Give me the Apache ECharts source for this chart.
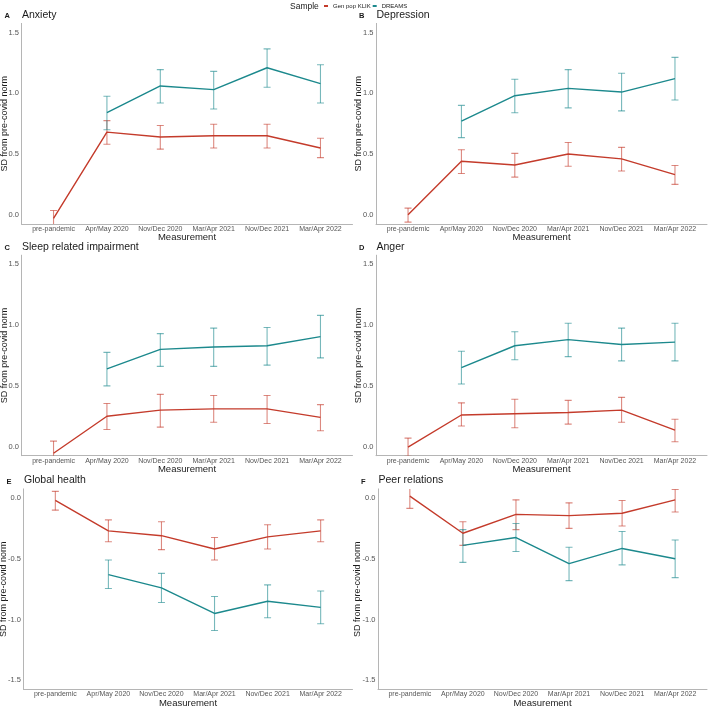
<!DOCTYPE html>
<html>
	<head>
		<meta charset="utf-8" />
		<title>SD from pre-covid norm</title>
		<style>
			html, body { margin: 0; padding: 0; background: #fff; }
			#chart { width: 709px; height: 706px; }
		</style>
	</head>
	<body>
		<div id="chart"></div>
		<script src="https://cdn.jsdelivr.net/npm/echarts@6/dist/echarts.min.js" type="text/javascript" charset="utf-8"></script>
		<script type="text/javascript">
			// 测量时间点
			var categories = ['pre-pandemic', 'Apr/May 2020', 'Nov/Dec 2020', 'Mar/Apr 2021', 'Nov/Dec 2021', 'Mar/Apr 2022'];
			var panelLetters = ['A', 'B', 'C', 'D', 'E', 'F'];
			var panelNames = ['Anxiety', 'Depression', 'Sleep related impairment', 'Anger', 'Global health', 'Peer relations'];

			// Gen pop KLIK: mean / lower / upper per panel
			var klikMean = [
				[-0.03, 0.68, 0.64, 0.65, 0.65, 0.55],
				[0.00, 0.44, 0.41, 0.50, 0.46, 0.33],
				[-0.055, 0.25, 0.30, 0.31, 0.31, 0.24],
				[-0.005, 0.26, 0.27, 0.28, 0.30, 0.135],
				[-0.02, -0.27, -0.31, -0.42, -0.32, -0.27],
				[0.015, -0.29, -0.135, -0.145, -0.125, -0.015]
			];
			var klikLow = [
				[-0.10, 0.58, 0.54, 0.55, 0.55, 0.47],
				[-0.06, 0.34, 0.31, 0.40, 0.36, 0.25],
				[-0.16, 0.14, 0.16, 0.20, 0.19, 0.13],
				[-0.08, 0.17, 0.155, 0.185, 0.20, 0.04],
				[-0.10, -0.36, -0.425, -0.51, -0.42, -0.36],
				[-0.085, -0.39, -0.26, -0.25, -0.23, -0.115]
			];
			var klikHigh = [
				[0.035, 0.775, 0.735, 0.745, 0.745, 0.63],
				[0.055, 0.535, 0.505, 0.595, 0.555, 0.405],
				[0.045, 0.355, 0.43, 0.42, 0.42, 0.345],
				[0.07, 0.36, 0.39, 0.38, 0.405, 0.225],
				[0.055, -0.18, -0.195, -0.325, -0.22, -0.18],
				[0.11, -0.195, -0.015, -0.04, -0.02, 0.07]
			];

			// DREAMS (no pre-pandemic measurement)
			var dreamsMean = [
				[null, 0.84, 1.06, 1.03, 1.21, 1.08],
				[null, 0.77, 0.98, 1.04, 1.01, 1.12],
				[null, 0.64, 0.80, 0.82, 0.83, 0.905],
				[null, 0.65, 0.83, 0.88, 0.84, 0.86],
				[null, -0.63, -0.74, -0.95, -0.85, -0.90],
				[null, -0.39, -0.325, -0.54, -0.415, -0.50]
			];
			var dreamsLow = [
				[null, 0.70, 0.92, 0.87, 1.05, 0.92],
				[null, 0.635, 0.84, 0.88, 0.855, 0.945],
				[null, 0.50, 0.66, 0.66, 0.67, 0.73],
				[null, 0.515, 0.715, 0.74, 0.705, 0.705],
				[null, -0.745, -0.86, -1.09, -0.985, -1.035],
				[null, -0.53, -0.44, -0.68, -0.55, -0.655]
			];
			var dreamsHigh = [
				[null, 0.975, 1.195, 1.18, 1.365, 1.235],
				[null, 0.90, 1.115, 1.195, 1.165, 1.295],
				[null, 0.775, 0.93, 0.975, 0.98, 1.08],
				[null, 0.785, 0.945, 1.015, 0.975, 1.015],
				[null, -0.51, -0.62, -0.81, -0.715, -0.765],
				[null, -0.26, -0.21, -0.405, -0.275, -0.345]
			];

			// y 轴刻度标签 (every 0.5)
			var yLabelStep = 0.5;

			var red = '#c43b2b';
			var teal = '#1c898d';
			var fontName = 'Liberation Sans, Arial, sans-serif';

			// 面板位置
			var rowTop = [23.4, 255.2, 488.9];
			var colLeft = [[21.5, 376], [21.5, 376], [23.5, 378]];
			var yNameGap = [[12.5, 12.5], [12.5, 12.5], [15.5, 15.5]];
			var plotH = 200.5;

			function renderErr(params, api) {
				var x = api.value(0);
				var lo = api.coord([x, api.value(1)]);
				var hi = api.coord([x, api.value(2)]);
				var w = 3.5;
				var c = api.visual('color');
				function st() { return { stroke: c, lineWidth: 1.1, opacity: 0.6 }; }
				return {
					type: 'group',
					children: [
						{ type: 'line', shape: { x1: lo[0], y1: lo[1], x2: hi[0], y2: hi[1] }, style: st() },
						{ type: 'line', shape: { x1: lo[0] - w, y1: lo[1], x2: lo[0] + w, y2: lo[1] }, style: st() },
						{ type: 'line', shape: { x1: hi[0] - w, y1: hi[1], x2: hi[0] + w, y2: hi[1] }, style: st() }
					]
				};
			}

			function xLabel(v) {
				var r = Math.round(v);
				if (Math.abs(v - r) < 0.01 && r >= 0 && r < categories.length) return categories[r];
				return '';
			}
			function yLabel(v) {
				var r = Math.round(v / yLabelStep);
				if (Math.abs(v / yLabelStep - r) < 0.01) return (r * yLabelStep).toFixed(1);
				return '';
			}

			var grids = [], xAxes = [], yAxes = [], series = [], titles = [];

			for (var p = 0; p < 6; p++) {
				var row = Math.floor(p / 2), col = p % 2;
				var gLeft = colLeft[row][col];
				var gWidth = (col === 0 ? 352.5 : 707) - gLeft;
				var gTop = rowTop[row];
				var neg = row === 2;

				grids.push({ left: gLeft, top: gTop, width: gWidth, height: plotH, containLabel: false, outerBoundsMode: 'none' });

				xAxes.push({
					type: 'value', gridIndex: p, min: -0.6, max: 5.6, interval: 0.2,
					name: 'Measurement', nameLocation: 'middle', nameGap: 8.5, nameMoveOverlap: false,
					nameTextStyle: { color: '#1a1a1a', fontSize: 9.5, fontFamily: fontName },
					axisLine: { show: true, onZero: false, lineStyle: { color: '#b5b5b5', width: 1 } },
					axisTick: { show: false },
					splitLine: { show: false },
					axisLabel: { margin: 1.5, color: '#555', fontSize: 7, fontFamily: fontName, formatter: xLabel }
				});

				yAxes.push({
					type: 'value', gridIndex: p,
					min: neg ? -1.575 : -0.075, max: neg ? 0.075 : 1.575, interval: 0.025,
					name: 'SD from pre-covid norm', nameLocation: 'middle', nameGap: yNameGap[row][col], nameMoveOverlap: false,
					nameTextStyle: { color: '#1a1a1a', fontSize: 9, fontFamily: fontName },
					axisLine: { show: true, onZero: false, lineStyle: { color: '#b5b5b5', width: 1 } },
					axisTick: { show: false },
					splitLine: { show: false },
					axisLabel: { margin: 2.5, color: '#555', fontSize: 7.5, fontFamily: fontName, formatter: yLabel }
				});

				titles.push({
					text: panelLetters[p], left: gLeft - 17, top: gTop - 11, padding: 0,
					textStyle: { fontSize: 7.5, fontWeight: 'bold', color: '#1a1a1a', fontFamily: fontName }
				});
				titles.push({
					text: panelNames[p], left: gLeft + 0.5, top: gTop - 14, padding: 0,
					textStyle: { fontSize: 10.5, fontWeight: 'normal', color: '#1a1a1a', fontFamily: fontName }
				});

				var kLine = [], kErr = [], dLine = [], dErr = [];
				for (var i = 0; i < categories.length; i++) {
					kLine.push([i, klikMean[p][i]]);
					kErr.push([i, klikLow[p][i], klikHigh[p][i]]);
					if (dreamsMean[p][i] !== null) {
						dLine.push([i, dreamsMean[p][i]]);
						dErr.push([i, dreamsLow[p][i], dreamsHigh[p][i]]);
					}
				}

				series.push({
					type: 'custom', name: 'Gen pop KLIK', xAxisIndex: p, yAxisIndex: p,
					renderItem: renderErr, data: kErr, clip: true, itemStyle: { color: red },
					encode: { x: 0, y: [1, 2] }, silent: true
				});
				series.push({
					type: 'custom', name: 'DREAMS', xAxisIndex: p, yAxisIndex: p,
					renderItem: renderErr, data: dErr, clip: true, itemStyle: { color: teal },
					encode: { x: 0, y: [1, 2] }, silent: true
				});
				series.push({
					type: 'line', name: 'Gen pop KLIK', xAxisIndex: p, yAxisIndex: p,
					data: kLine, showSymbol: false, clip: true, itemStyle: { color: red },
					lineStyle: { color: red, width: 1.4 }, silent: true
				});
				series.push({
					type: 'line', name: 'DREAMS', xAxisIndex: p, yAxisIndex: p,
					data: dLine, showSymbol: false, clip: true, itemStyle: { color: teal },
					lineStyle: { color: teal, width: 1.4 }, silent: true
				});
			}

			titles.push({
				text: 'Sample', left: 290, top: 2, padding: 0,
				textStyle: { fontSize: 8.5, fontWeight: 'normal', color: '#1a1a1a', fontFamily: fontName }
			});

			var myChart = echarts.init(document.getElementById('chart'));
			myChart.setOption({
				animation: false,
				title: titles,
				legend: {
					data: ['Gen pop KLIK', 'DREAMS'],
					left: 324, top: 3, itemWidth: 4, itemHeight: 2, itemGap: 2,
					icon: 'rect', selectedMode: false, padding: 0,
					textStyle: { fontSize: 6, color: '#1a1a1a', fontFamily: fontName }
				},
				grid: grids,
				xAxis: xAxes,
				yAxis: yAxes,
				series: series
			});
		</script>
	</body>
</html>
